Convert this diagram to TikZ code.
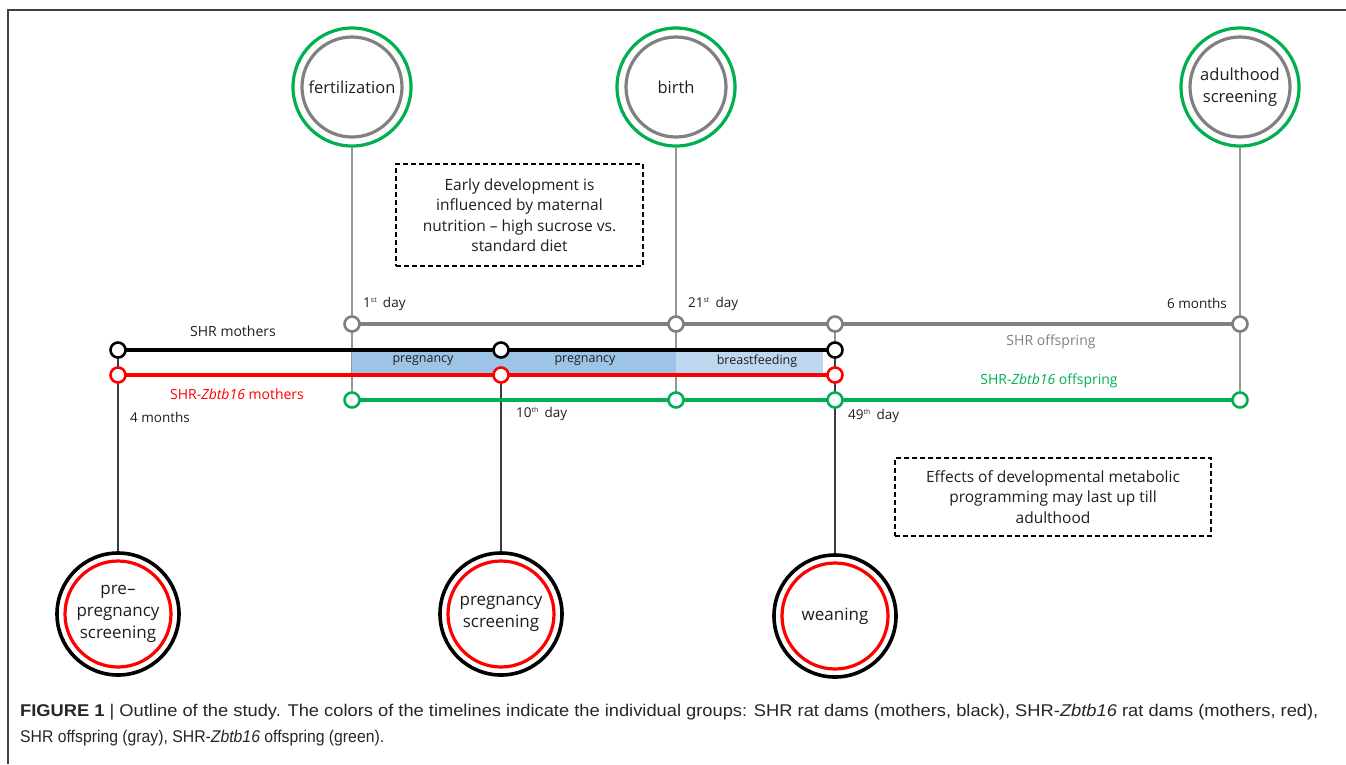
\documentclass[tikz,border=0pt]{standalone}
\usepackage{fontspec}
\setmainfont{Open Sans}
\newfontfamily\capfont{Liberation Sans}
\definecolor{tlgreen}{RGB}{0,176,80}
\definecolor{tlgray}{RGB}{128,128,128}
\definecolor{tlred}{RGB}{255,0,0}
\definecolor{barblue}{RGB}{157,195,230}
\definecolor{barlight}{RGB}{189,215,238}
\definecolor{vline}{RGB}{60,60,60}
\definecolor{gline}{RGB}{150,150,150}
\definecolor{txt}{RGB}{30,30,30}
\begin{document}
\begin{tikzpicture}[x=1pt,y=-1pt,
  dot/.style={circle,draw,fill=white,line width=2.6pt,minimum size=15pt,inner sep=0pt},
  topev/.style={circle,draw=tlgreen,line width=3.2pt,minimum size=118pt,inner sep=0pt,align=center,text=txt,font=\fontsize{16.5}{22}\selectfont},
  botev/.style={circle,draw=black,line width=3.6pt,minimum size=122pt,inner sep=0pt,align=center,text=txt,font=\fontsize{17}{22}\selectfont},
  lbl/.style={text=txt,font=\fontsize{13.5}{16}\selectfont,inner sep=0pt},
  barlbl/.style={text=txt,font=\fontsize{12.5}{15}\selectfont,inner sep=0pt},
  note/.style={draw=black,dash pattern=on 5pt off 3pt,line width=1.1pt,align=center,text=txt,font=\fontsize{15.5}{20.5}\selectfont,inner sep=0pt},
  vdark/.style={draw=vline,line width=1.4pt},
  vgray/.style={draw=gline,line width=1.3pt},
  capt/.style={anchor=west,inner sep=0pt,font=\capfont\fontsize{17}{20}\selectfont,text=black!85}
]
\useasboundingbox (0,0) rectangle (1346,764);
% frame
\draw[line width=1.2pt,black!75] (1346,10) -- (8,10) -- (8,764);

% event circles
\node[topev] (fert) at (352,87) {fertilization};
\node[topev] (birth) at (676,87) {birth};
\node[topev] (adult) at (1240,87) {adulthood\\screening};
\foreach \n in {fert,birth,adult} \draw[tlgray,line width=3.2pt] (\n.center) circle (50);

\node[botev] (prepreg) at (118,614) {pre--\\pregnancy\\screening};
\node[botev] (pregscr) at (501,614) {pregnancy\\screening};
\node[botev] (wean) at (835,616) {weaning};
\foreach \n in {prepreg,pregscr,wean} \draw[tlred,line width=3.2pt] (\n.center) circle (53);

% timeline dot positions
\coordinate (cg1) at (352,324); \coordinate (cg2) at (676,324); \coordinate (cg3) at (835,324); \coordinate (cg4) at (1240,324);
\coordinate (ck1) at (118,350); \coordinate (ck2) at (501,350); \coordinate (ck3) at (835,350);
\coordinate (cr1) at (118,375); \coordinate (cr2) at (501,375); \coordinate (cr3) at (835,375);
\coordinate (cn1) at (352,400); \coordinate (cn2) at (676,400); \coordinate (cn3) at (835,400); \coordinate (cn4) at (1240,400);

% vertical connectors
\draw[vgray] (fert.south) -- (cg1) -- (cn1);
\draw[vgray] (birth.south) -- (cg2) -- (cn2);
\draw[vgray] (adult.south) -- (cg4) -- (cn4);
\draw[vgray] (cg3) -- (ck3);
\draw[vdark] (ck1) -- (prepreg.north);
\draw[vdark] (ck2) -- (pregscr.north);
\draw[vdark] (ck3) -- (wean.north);

% bars
\fill[barblue] (352,352) rectangle (676,373);
\fill[barlight] (676,352) rectangle (823,373);
\node[barlbl] (bp1) at (423,361) {pregnancy};
\node[barlbl] (bp2) at (585,361) {pregnancy};
\node[barlbl] (bbf) at (757,361) {breastfeeding};

% timelines
\draw[tlgray,line width=4pt] (cg1) -- (cg4);
\draw[black,line width=4.4pt] (ck1) -- (ck3);
\draw[tlred,line width=4.4pt] (cr1) -- (cr3);
\draw[tlgreen,line width=3.6pt] (cn1) -- (cn4);

% dots
\foreach \i in {1,2,3,4} \node[dot,draw=tlgray] (g\i) at (cg\i) {};
\foreach \i in {1,2,3} \node[dot,draw=black] (k\i) at (ck\i) {};
\foreach \i in {1,2,3} \node[dot,draw=tlred] (r\i) at (cr\i) {};
\foreach \i in {1,2,3,4} \node[dot,draw=tlgreen] (n\i) at (cn\i) {};

% labels
\node[lbl,font=\fontsize{14}{16}\selectfont] (lshr) at (233,331) {SHR mothers};
\node[lbl,font=\fontsize{14}{16}\selectfont,text=tlred] (lzb) at (237,394) {SHR-\textit{Zbtb16} mothers};
\node[lbl] (l4m) at (160,417) {4 months};
\node[lbl,anchor=west] (l1d) at (363,304) {1\textsuperscript{\fontsize{7}{7}\selectfont st}\, day};
\node[lbl,anchor=west] (l21d) at (688,304) {21\textsuperscript{\fontsize{7}{7}\selectfont st}\, day};
\node[lbl] (l6m) at (1197,303) {6 months};
\node[lbl,font=\fontsize{14}{16}\selectfont,text=tlgray] (lso) at (1051,342) {SHR offspring};
\node[lbl,font=\fontsize{14}{16}\selectfont,text=tlgreen] (lzo) at (1049,381) {SHR-\textit{Zbtb16} offspring};
\node[lbl,anchor=west] (l10d) at (516,414) {10\textsuperscript{\fontsize{7}{7}\selectfont th}\, day};
\node[lbl,anchor=west] (l49d) at (848,416) {49\textsuperscript{\fontsize{7}{7}\selectfont th}\, day};

% notes
\node[note,minimum width=247pt,minimum height=102pt] (note1) at (519.5,215) {Early development is\\influenced by maternal\\nutrition -- high sucrose vs.\\standard diet};
\node[note,minimum width=316pt,minimum height=78pt] (note2) at (1053,497) {Effects of developmental metabolic\\programming may last up till\\adulthood};

% caption
\node[capt] (cap1) at (20,712)
  {\resizebox{1298pt}{\height}{\textbf{FIGURE 1} | Outline of the study. The colors of the timelines indicate the individual groups: SHR rat dams (mothers, black), SHR-\textit{Zbtb16} rat dams (mothers, red),}};
\node[capt] (cap2) at (20,738)
  {\resizebox{364pt}{\height}{SHR offspring (gray), SHR-\textit{Zbtb16} offspring (green).}};
\end{tikzpicture}
\end{document}
